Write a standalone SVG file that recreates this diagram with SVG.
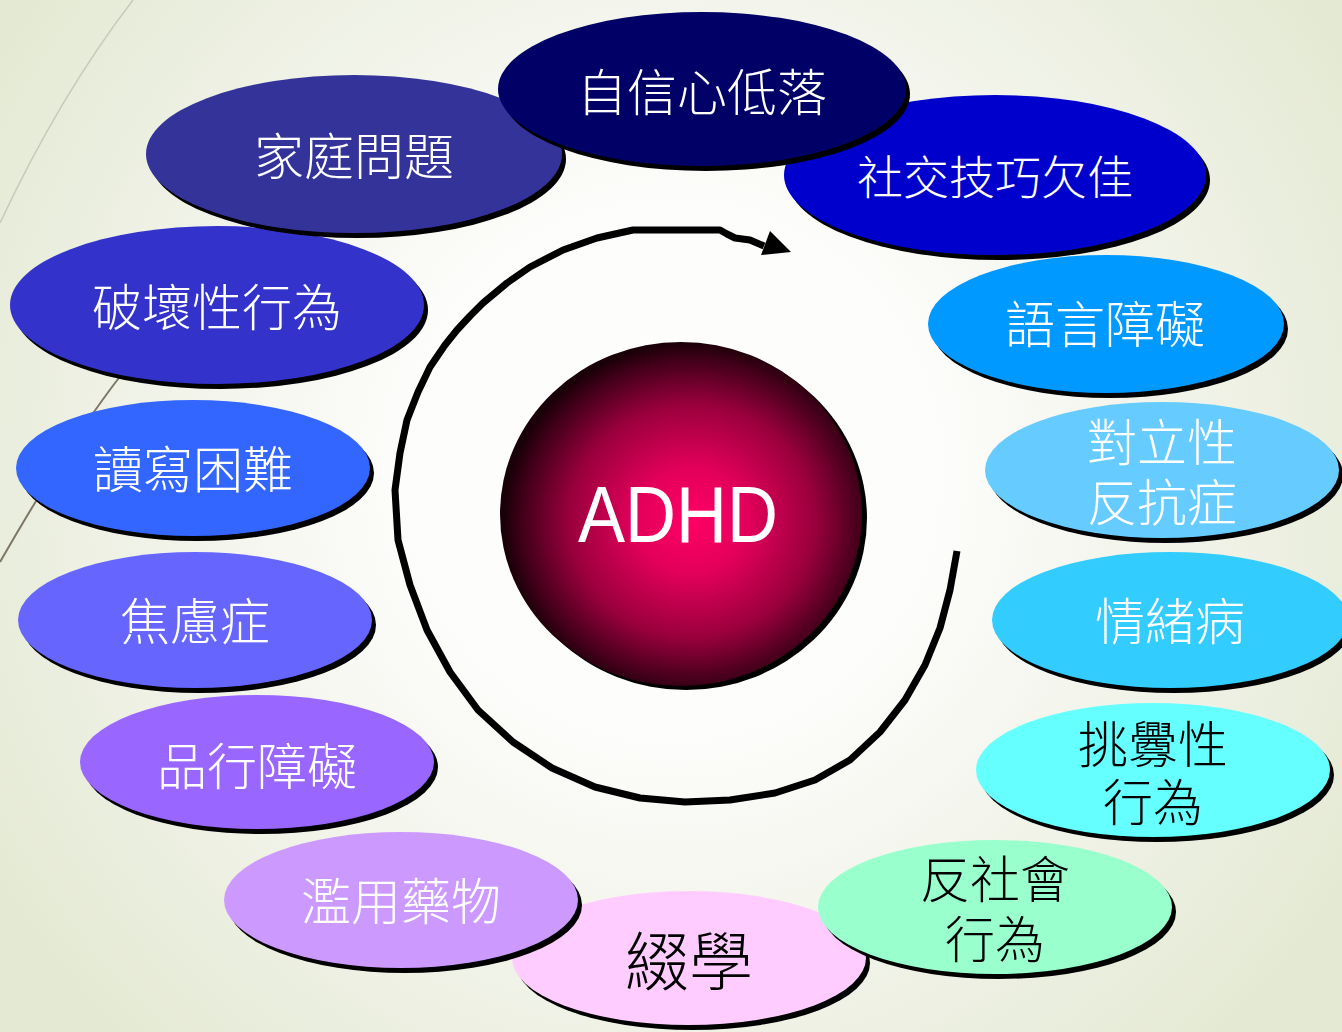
<svg xmlns="http://www.w3.org/2000/svg" width="1342" height="1032" viewBox="0 0 1342 1032">
<defs>
<radialGradient id="bg" gradientUnits="userSpaceOnUse" cx="671" cy="470" r="800">
<stop offset="0" stop-color="#ffffff"/>
<stop offset="0.35" stop-color="#fcfcfa"/>
<stop offset="0.85" stop-color="#e9eddc"/>
<stop offset="1" stop-color="#e4e9d3"/>
</radialGradient>
<radialGradient id="sph" cx="0.53" cy="0.52" r="0.52">
<stop offset="0" stop-color="#ff0066"/>
<stop offset="0.3" stop-color="#e2005a"/>
<stop offset="0.65" stop-color="#9a003d"/>
<stop offset="0.9" stop-color="#420019"/>
<stop offset="1" stop-color="#1a0008"/>
</radialGradient>
<style>
.sh{fill:#000}
.t{font-family:"Noto Sans CJK TC","Noto Sans CJK SC",sans-serif;font-weight:300;font-size:50px;text-anchor:middle;fill:#fff}
.k{fill:#000}
.bgl{fill:none}
</style>
</defs>
<rect width="1342" height="1032" fill="url(#bg)"/>
<path class="bgl" d="M133,0 Q60,95 0,223" stroke="#c9cabd" stroke-width="1.5"/>
<path class="bgl" d="M125,370 Q70,440 0,562" stroke="#7d7766" stroke-width="2"/>

<g id="connectors">
<path d="M957,551 L950,590 L940,628 L925,665 L905,700 L880,732 L850,760 L815,780 L775,793 L730,800 L685,802 L640,798 L595,787 L552,768 L513,742 L478,710 L450,672 L427,630 L410,585 L398,540 L395,490 L400,453 L407,420 L418,392 L430,367 L445,345 L457,330 L470,316 L483,303 L507,283 L530,267 L563,250 L597,238 L633,230 L720,230 L727,234 L735,238 L750,240 L764,246" fill="none" stroke="#000" stroke-width="7" stroke-linejoin="round"/>
<polygon points="770,231 791,252 761,255" fill="#000"/>
</g>

<g id="adhd">
<ellipse cx="686" cy="518" rx="181" ry="172" fill="#000"/>
<ellipse cx="681" cy="514" rx="181" ry="172" fill="url(#sph)"/>
<text x="678" y="542" font-family="'Liberation Sans',Arial,sans-serif" font-size="80" fill="#fff" text-anchor="middle" textLength="200" lengthAdjust="spacingAndGlyphs">ADHD</text>
</g>

<g id="n-pohuai">
<ellipse class="sh" cx="221" cy="310" rx="207" ry="79"/>
<ellipse cx="217" cy="305" rx="207" ry="79" fill="#3333cc"/>
<text class="t" x="217" y="326">破壞性行為</text>
</g>
<g id="n-jiating">
<ellipse class="sh" cx="358" cy="159" rx="208" ry="79"/>
<ellipse cx="354" cy="154" rx="208" ry="79" fill="#333399"/>
<text class="t" x="354" y="175">家庭問題</text>
</g>
<g id="n-shejiao">
<ellipse class="sh" cx="999" cy="180" rx="211" ry="80"/>
<ellipse cx="995" cy="175" rx="211" ry="80" fill="#0000cc"/>
<text class="t" x="995" y="194" style="font-size:46px">社交技巧欠佳</text>
</g>
<g id="n-zixin">
<ellipse class="sh" cx="706" cy="94" rx="204" ry="77"/>
<ellipse cx="702" cy="89" rx="204" ry="77" fill="#000066"/>
<text class="t" x="702" y="111">自信心低落</text>
</g>
<g id="n-yuyan">
<ellipse class="sh" cx="1110" cy="329" rx="178" ry="69"/>
<ellipse cx="1106" cy="324" rx="178" ry="69" fill="#0099ff"/>
<text class="t" x="1105" y="343">語言障礙</text>
</g>
<g id="n-duili">
<ellipse class="sh" cx="1166" cy="475" rx="177" ry="68"/>
<ellipse cx="1162" cy="470" rx="177" ry="68" fill="#66ccff"/>
<text class="t" x="1162" y="461">對立性<tspan x="1162" dy="60">反抗症</tspan></text>
</g>
<g id="n-qingxu">
<ellipse class="sh" cx="1174" cy="625" rx="178" ry="68"/>
<ellipse cx="1170" cy="620" rx="178" ry="68" fill="#33ccff"/>
<text class="t" x="1170" y="640">情緒病</text>
</g>
<g id="n-tiaoxin">
<ellipse class="sh" cx="1157" cy="775" rx="177" ry="67"/>
<ellipse cx="1153" cy="770" rx="177" ry="67" fill="#66ffff"/>
<text class="t k" x="1153" y="763">挑釁性<tspan x="1153" dy="58">行為</tspan></text>
</g>
<g id="n-duxie">
<ellipse class="sh" cx="197" cy="473" rx="177" ry="68"/>
<ellipse cx="193" cy="468" rx="177" ry="68" fill="#3366ff"/>
<text class="t" x="193" y="488">讀寫困難</text>
</g>
<g id="n-jiaolv">
<ellipse class="sh" cx="199" cy="625" rx="177" ry="68"/>
<ellipse cx="195" cy="620" rx="177" ry="68" fill="#6666ff"/>
<text class="t" x="195" y="640">焦慮症</text>
</g>
<g id="n-pinxing">
<ellipse class="sh" cx="261" cy="767" rx="177" ry="67"/>
<ellipse cx="257" cy="762" rx="177" ry="67" fill="#9966ff"/>
<text class="t" x="257" y="785">品行障礙</text>
</g>
<g id="n-chuoxue">
<ellipse class="sh" cx="693" cy="963" rx="177" ry="67"/>
<ellipse cx="689" cy="958" rx="177" ry="67" fill="#ffccff"/>
<text class="t k" x="689" y="985" style="font-size:64px">綴學</text>
</g>
<g id="n-lanyong">
<ellipse class="sh" cx="405" cy="905" rx="177" ry="68"/>
<ellipse cx="401" cy="900" rx="177" ry="68" fill="#cc99ff"/>
<text class="t" x="401" y="920">濫用藥物</text>
</g>
<g id="n-fanshehui">
<ellipse class="sh" cx="999" cy="912" rx="177" ry="67"/>
<ellipse cx="995" cy="907" rx="177" ry="67" fill="#99ffcc"/>
<text class="t k" x="995" y="898">反社會<tspan x="995" dy="60">行為</tspan></text>
</g>
</svg>
